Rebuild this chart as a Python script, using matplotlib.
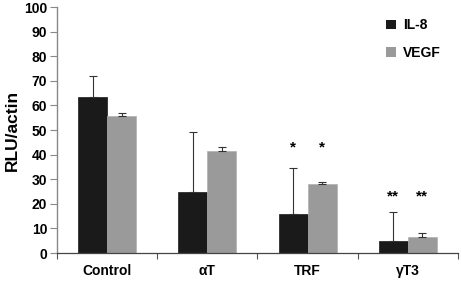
import matplotlib
matplotlib.use("Agg")
import matplotlib.pyplot as plt
import numpy as np
from matplotlib.patches import Patch

categories = ["Control", "\u03b1T", "TRF", "\u03b3T3"]
il8 = [63.4, 24.9, 16.0, 5.0]
il8_err = [8.6, 24.4, 18.4, 11.5]
vegf = [55.7, 41.6, 27.9, 6.4]
vegf_err = [1.3, 1.4, 1.1, 1.6]
stars_il8 = ["", "", "*", "**"]
stars_vegf = ["", "", "*", "**"]
star_y = [0, 0, 43, 23]

plt.rcParams['font.family'] = ['Liberation Sans', 'DejaVu Sans']
plt.rcParams['font.weight'] = 'bold'

fig = plt.figure(figsize=(4.61, 2.82), dpi=100)
ax = fig.add_axes([0.1236, 0.1028, 0.8699, 0.8722])

x = np.arange(len(categories))
w = 0.29
ax.bar(x - w/2, il8, w, color='#1a1a1a', edgecolor='#1a1a1a', linewidth=0.5, label='IL-8')
ax.bar(x + w/2, vegf, w, color='#9a9a9a', edgecolor='#b0b0b0', linewidth=0.5, label='VEGF')
ax.errorbar(x - w/2, il8, yerr=[np.zeros(4), il8_err], fmt='none', ecolor='#333333',
            elinewidth=0.8, capsize=2.9, capthick=0.8)
ax.errorbar(x + w/2, vegf, yerr=[np.zeros(4), vegf_err], fmt='none', ecolor='#333333',
            elinewidth=0.8, capsize=2.9, capthick=0.8)

for i in range(len(categories)):
    if stars_il8[i]:
        ax.text(x[i] - w/2, star_y[i], stars_il8[i], ha='center', va='center', fontsize=11, fontweight='bold')
    if stars_vegf[i]:
        ax.text(x[i] + w/2, star_y[i], stars_vegf[i], ha='center', va='center', fontsize=11, fontweight='bold')

ax.set_xlim(-0.5, 3.5)
ax.set_ylim(0, 100)
ax.set_yticks(np.arange(0, 101, 10))
ax.tick_params(axis='y', labelsize=10, length=5, width=0.8, color='#888888', pad=2)
ax.set_xticks(np.arange(-0.5, 3.6, 1.0))
ax.set_xticklabels([])
ax.tick_params(axis='x', which='major', length=4, width=0.8, color='#555555')
ax.set_xticks(x, minor=True)
ax.set_xticklabels(categories, minor=True, fontsize=10, fontweight='bold')
ax.tick_params(axis='x', which='minor', length=0, pad=8)
for lab in ax.get_yticklabels():
    lab.set_fontweight('bold')

ax.spines['top'].set_visible(False)
ax.spines['right'].set_visible(False)
ax.spines['left'].set_color('#888888')
ax.spines['left'].set_linewidth(1.0)
ax.spines['bottom'].set_color('#444444')
ax.spines['bottom'].set_linewidth(0.9)

ax.set_ylabel("RLU/actin", fontsize=12.5, fontweight='bold', labelpad=3)

handles = [Patch(facecolor='#1a1a1a', label='IL-8'), Patch(facecolor='#9a9a9a', label='VEGF')]
leg = ax.legend(handles=handles, loc='upper left', bbox_to_anchor=(0.79, 1.005), frameon=False,
                handlelength=0.7, handleheight=0.7, handletextpad=0.5,
                labelspacing=0.95, prop={'weight': 'bold', 'size': 10})

fig.savefig("out.png", dpi=100)
